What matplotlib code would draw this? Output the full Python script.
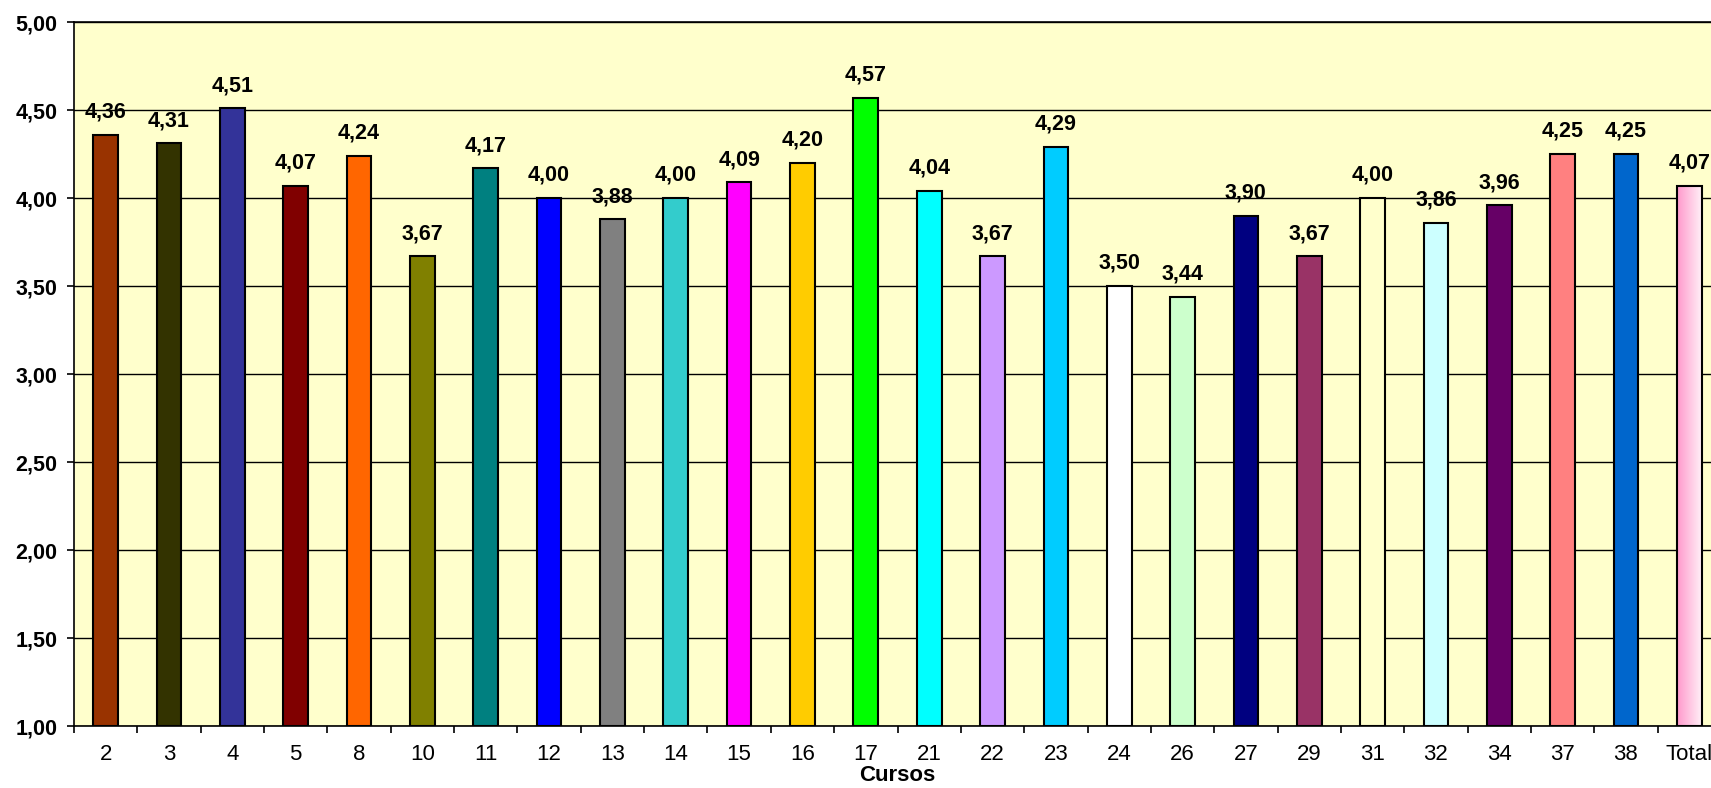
import numpy as np
import matplotlib.pyplot as plt
from matplotlib.colors import LinearSegmentedColormap

# dados do gráfico
cursos = ['2', '3', '4', '5', '8', '10', '11', '12', '13', '14', '15', '16', '17',
          '21', '22', '23', '24', '26', '27', '29', '31', '32', '34', '37', '38', 'Total']
medias = [4.36, 4.31, 4.51, 4.07, 4.24, 3.67, 4.17, 4.00, 3.88, 4.00, 4.09, 4.20, 4.57,
          4.04, 3.67, 4.29, 3.50, 3.44, 3.90, 3.67, 4.00, 3.86, 3.96, 4.25, 4.25, 4.07]
cores = ['#993300', '#333300', '#333399', '#800000', '#FF6600', '#808000', '#008080',
         '#0000FF', '#808080', '#33CCCC', '#FF00FF', '#FFCC00', '#00FF00', '#00FFFF',
         '#CC99FF', '#00CCFF', '#FFFFFF', '#CCFFCC', '#000080', '#993366', '#FFFFCC',
         '#CCFFFF', '#660066', '#FF8080', '#0066CC', '#FFB3D9']

plt.rcParams['font.family'] = ['Liberation Sans', 'DejaVu Sans']

W, H = 1711, 788
fig = plt.figure(figsize=(W / 100, H / 100), dpi=100)
# o eixo passa da borda direita (como no original, a barra Total fica cortada)
left, right, top, bottom = 74, 1721, 22, 726
ax = fig.add_axes([left / W, (H - bottom) / H, (right - left) / W, (bottom - top) / H])
ax.set_facecolor('#FFFFCC')

x = np.arange(len(cursos))
largura = 0.39
barras = ax.bar(x, np.array(medias) - 1, bottom=1, width=largura, color=cores,
                edgecolor='black', linewidth=1.5, zorder=3)

# barra Total com degradê rosa -> branco
b = barras[-1]
grad = np.linspace(0, 1, 64).reshape(1, -1)
cmap = LinearSegmentedColormap.from_list('rosa', ['#FF99CC', '#FFF0F7'])
img = ax.imshow(grad, cmap=cmap, aspect='auto', zorder=3.5,
                extent=[b.get_x(), b.get_x() + b.get_width(), 1, medias[-1]])
img.set_clip_path(b)
b.set_facecolor('none')
b.set_zorder(4)

for xi, v in zip(x, medias):
    ax.annotate(f'{v:.2f}'.replace('.', ','), (xi, v), xytext=(0, 17),
                textcoords='offset pixels', ha='center', va='baseline',
                fontsize=15.5, fontweight='bold', zorder=5)

ax.set_xlim(-0.5, len(cursos) - 0.5)
ax.set_ylim(1, 5)
yt = np.arange(1, 5.01, 0.5)
ax.set_yticks(yt)
ax.set_yticklabels([f'{v:.2f}'.replace('.', ',') for v in yt], fontsize=15.5, fontweight='bold')
ax.grid(axis='y', color='black', linewidth=1, zorder=1)

ax.set_xticks(x)
ax.set_xticklabels(cursos, fontsize=16)
ax.set_xticks(np.arange(-0.5, len(cursos), 1), minor=True)
ax.tick_params(axis='x', which='major', length=0, pad=13)
ax.tick_params(axis='x', which='minor', length=5, width=1.2, direction='out')
ax.tick_params(axis='y', length=5, width=1.2, direction='out', pad=7)

for s in ax.spines.values():
    s.set_linewidth(1.2)
    s.set_zorder(6)

ax.set_xlabel('Cursos', fontsize=16, fontweight='bold', labelpad=0)

fig.savefig('out.png', dpi=100, facecolor='white')
